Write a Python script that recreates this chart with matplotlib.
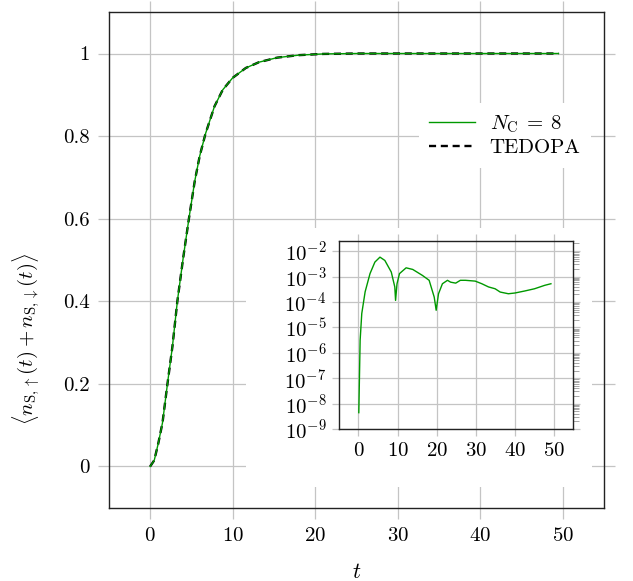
import matplotlib
matplotlib.use("Agg")
import matplotlib.pyplot as plt
from matplotlib.patches import Rectangle
from matplotlib.ticker import LogLocator, NullFormatter

plt.rcParams['font.family'] = 'serif'
plt.rcParams['font.serif'] = ['cmr10']
plt.rcParams['mathtext.fontset'] = 'cm'
plt.rcParams['axes.formatter.use_mathtext'] = True

# Besetzung des Systems (Hauptplot)
t_main = [0, 0.5, 1.0, 1.5, 2.1, 2.7, 3.3, 4.0, 4.7, 5.4, 6.0, 6.7, 7.8, 8.8,
          10, 11.6, 13.2, 15.4, 18, 21, 25, 30, 40, 49.5]
n_nc8 = [0, 0.015, 0.057, 0.106, 0.2, 0.29, 0.4, 0.504, 0.6, 0.69, 0.751, 0.805,
         0.872, 0.912, 0.941, 0.965, 0.979, 0.990, 0.996, 0.999, 1.0, 1.0, 1.0, 1.0]
n_tedopa = [0, 0.015, 0.057, 0.106, 0.2, 0.29, 0.4, 0.504, 0.6, 0.69, 0.751, 0.805,
            0.872, 0.912, 0.941, 0.965, 0.979, 0.990, 0.996, 0.999, 1.0, 1.0, 1.0, 1.0]

# Abweichung (Inset, log)
t_err = [0.08, 0.42, 0.84, 1.7, 2.95, 4.2, 5.5, 6.75, 8.4, 9.3, 9.5, 9.87, 10.5,
         12.2, 13.9, 16.4, 18.1, 19.4, 19.9, 20.5, 21.5, 22.8, 23.6, 24.9, 26.1,
         27.4, 29.9, 31.6, 33.3, 35, 36.3, 38.4, 40.1, 42.6, 45.1, 47.7, 49.3]
err = [4.4e-9, 3.1e-6, 3.5e-5, 2.5e-4, 1.3e-3, 3.7e-3, 5.8e-3, 4.3e-3, 1.5e-3,
       3.9e-4, 1.15e-4, 5.2e-4, 1.3e-3, 2.2e-3, 1.9e-3, 1.1e-3, 7.1e-4, 1.55e-4,
       4.7e-5, 2.1e-4, 5.2e-4, 7.1e-4, 6.0e-4, 5.5e-4, 7.1e-4, 7.1e-4, 6.6e-4,
       5.2e-4, 3.9e-4, 3.3e-4, 2.45e-4, 2.1e-4, 2.25e-4, 2.7e-4, 3.3e-4, 4.5e-4,
       5.2e-4]

main_ticks_y = [0, 0.2, 0.4, 0.6, 0.8, 1]
main_labels_y = ['0', '0.2', '0.4', '0.6', '0.8', '1']
ticks_x = [0, 10, 20, 30, 40, 50]

green = '#009900'
grid_col = '#c4c4c4'

fig = plt.figure(figsize=(6.33, 5.81), dpi=100)
ax = fig.add_axes([0.172, 0.126, 0.782, 0.853])
ax.set_zorder(0)

ax.plot(t_main, n_nc8, color=green, lw=1.0, label=r'$N_\mathrm{C}\:=\:8$', zorder=3)
ax.plot(t_main, n_tedopa, color='black', lw=1.7, linestyle=(0, (3.0, 2.0)),
        label='TEDOPA', zorder=2)

ax.set_xlim(-5, 55)
ax.set_ylim(-0.1, 1.1)
ax.set_xticks(ticks_x)
ax.set_yticks(main_ticks_y)
ax.set_yticklabels(main_labels_y)
ax.grid(True, color=grid_col, lw=0.9)
ax.tick_params(direction='out', length=8, width=0.9, color=grid_col,
               top=True, right=True, labelsize=15, pad=6)
for s in ax.spines.values():
    s.set_color('#222222')
    s.set_linewidth(1.0)
ax.set_xlabel(r'$t$', fontsize=16)
ax.set_ylabel(r'$\langle n_{\mathrm{S},\uparrow}(t) + n_{\mathrm{S},\downarrow}(t)\rangle$',
              fontsize=15)
ax.yaxis.set_label_coords(-0.133, 0.34)
ax.xaxis.set_label_coords(0.5, -0.11)

leg = ax.legend(loc='center', bbox_to_anchor=(0.80, 0.752), fontsize=15,
                frameon=True, fancybox=False, framealpha=1.0, edgecolor='none',
                facecolor='white', handlelength=2.2, handletextpad=0.7,
                labelspacing=0.2, borderpad=0.5)

# weisser Hintergrund hinter dem Inset
fig.add_artist(Rectangle((0.389, 0.162), 0.546, 0.446, transform=fig.transFigure,
                         facecolor='white', edgecolor='none', zorder=1))

ins = fig.add_axes([0.5355, 0.2616, 0.370, 0.3236])
ins.set_zorder(2)
ins.plot(t_err, err, color=green, lw=1.0)
ins.set_yscale('log')
ins.set_xlim(-5, 55)
ins.set_ylim(1e-9, 2.5e-2)
ins.set_xticks(ticks_x)
ins.yaxis.set_major_locator(LogLocator(base=10, numticks=20))
ins.yaxis.set_minor_locator(LogLocator(base=10, subs=range(2, 10), numticks=20))
ins.yaxis.set_minor_formatter(NullFormatter())
ins.grid(True, which='major', color=grid_col, lw=0.9)
ins.tick_params(which='major', direction='out', length=5, width=0.9, color=grid_col,
                top=True, right=True, labelsize=15, pad=4)
ins.tick_params(which='minor', direction='out', length=4, width=0.6, color='#999999',
                left=False, right=True)
for s in ins.spines.values():
    s.set_color('#222222')
    s.set_linewidth(1.0)

fig.savefig('out.png', dpi=100)
